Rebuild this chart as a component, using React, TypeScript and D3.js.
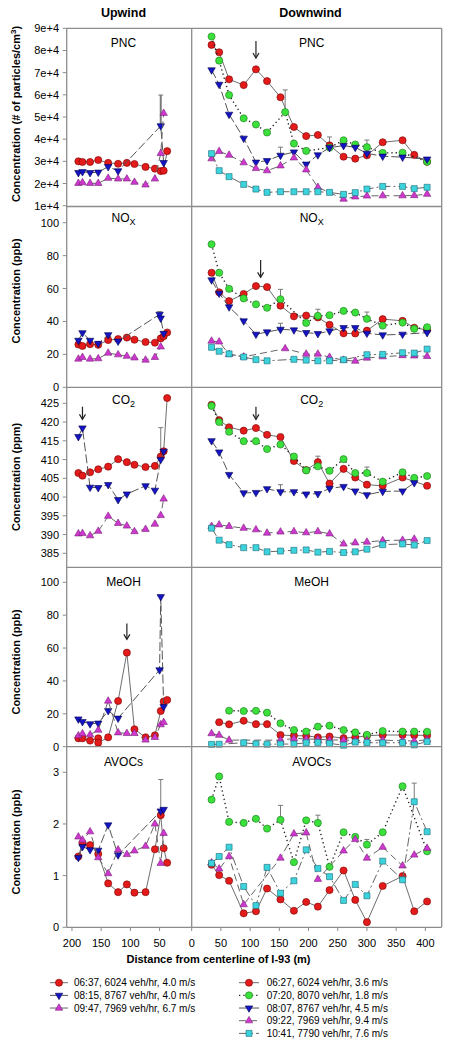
import React from 'react';
import * as d3 from 'd3';

// ---------- distances (m) ----------
const UP_X = [189, 182, 169, 155, 138, 121, 106, 93, 74, 58, 48, 43, 37];
const DN_X = [34, 47, 64, 89, 110, 129, 152, 175, 196, 216, 236, 260, 280, 300, 327, 361, 381, 403];
const UP_X12 = UP_X.slice(0, 12);
const DN_X17 = [34, 47, 64, 89, 110, 129, 152, 175, 196, 216, 236, 260, 280, 300, 327, 361, 403];
const DN_X17B = DN_X.slice(0, 17);

// ---------- PNC (#/cm3) ----------
const PNC_UP_R = [30000, 29700, 29700, 30600, 29300, 28900, 29300, 28800, 27500, 26700, 25600, 25800, 34600];
const PNC_UP_B_X = [189, 182, 169, 155, 138, 121, 48, 43];
const PNC_UP_B = [24900, 25300, 24900, 25100, 27600, 25700, 46000, 29400];
const PNC_UP_M = [20100, 20400, 20100, 20100, 22400, 22100, 22100, 20600, 19400, 22100, 33600, 51700];
const PNC_DN_R = [82500, 79200, 67000, 64400, 71500, 66200, 58900, 45500, 41400, 41900, 37200, 32100, 31200, 32700, 38600, 39500, 32900, 29800];
const PNC_DN_G_X = [34, 47, 64, 89, 110, 129, 160, 175, 196, 236, 260, 280, 300, 327, 361, 403];
const PNC_DN_G = [86300, 75400, 59900, 49400, 46600, 43000, 52200, 38000, 34700, 36200, 39500, 37600, 36400, 33800, 33900, 29800];
const PNC_DN_B = [71200, 64700, 51200, 40400, 29600, 30300, 32700, 34200, 28700, 32900, 36200, 37100, 36300, 33600, 32300, 31900, 31000];
const PNC_DN_M_X = [34, 47, 64, 89, 110, 129, 152, 175, 196, 216, 260, 280, 300, 327, 361, 381, 403];
const PNC_DN_M = [31200, 34500, 32800, 29400, 26800, 25800, 28000, 31600, 26200, 18300, 13000, 14000, 14400, 14500, 14500, 14600, 15200];
const PNC_DN_C = [33500, 25800, 23100, 19600, 17500, 16000, 16300, 16300, 16300, 16300, 16000, 15100, 15900, 17500, 18700, 18700, 17700, 18300];

// ---------- NOx (ppb) ----------
const NOX_UP_R = [26, 25.1, 26.2, 25.8, 28.7, 29.3, 30.2, 28.9, 27.5, 27.1, 29.7, 31, 33.3];
const NOX_UP_B_X = [189, 182, 169, 155, 138, 121, 50, 48, 43];
const NOX_UP_B = [28.5, 33.1, 28.5, 26.6, 31.9, 28, 44.3, 42, 32.7];
const NOX_UP_M_X = UP_X.slice(0, 11);
const NOX_UP_M = [17.2, 18.2, 17.2, 17.4, 20.8, 19.8, 18.9, 17.9, 16.6, 18.2, 24.6];
const NOX_DN_R = [69.6, 57.7, 52.4, 56.7, 61.5, 60.9, 49.6, 43.1, 43.6, 42.4, 38, 32.8, 32.7, 34.4, 41.4, 40.4, 36.2, 34.8];
const NOX_DN_G_X = [34, 47, 64, 89, 110, 129, 152, 196, 216, 236, 260, 280, 300, 327, 361, 381, 403];
const NOX_DN_G = [86.9, 69.6, 59.8, 54, 50.4, 48.3, 53.5, 39.1, 43.4, 43.8, 46.4, 45.4, 41.6, 37.5, 39.3, 35.5, 36.5];
const NOX_DN_B = [65.2, 57.1, 48.8, 40.3, 32.2, 33.6, 35.2, 34.8, 33.2, 32.6, 34.2, 36.2, 36.2, 32.8, 31.8, 32.2, 33.2];
const NOX_DN_M_X = [34, 47, 64, 89, 160, 196, 216, 236, 260, 280, 300, 327, 361, 381, 403];
const NOX_DN_M = [28.1, 27.6, 20, 18.5, 23.5, 20.2, 20.2, 18.3, 16.5, 15.9, 17.8, 18.6, 19.3, 19.1, 18.8];
const NOX_DN_C_X = [34, 47, 64, 89, 110, 129, 175, 196, 216, 236, 260, 300, 327, 361, 381, 403];
const NOX_DN_C = [24.3, 21.9, 20.3, 18.4, 16.8, 16.1, 17, 16.5, 16.1, 16.1, 16.7, 19.8, 20, 21, 20.8, 23.2];

// ---------- CO2 (ppm) ----------
const CO2_UP_R = [406.4, 405.7, 406.6, 407.4, 408.1, 410.1, 409.3, 408.6, 408, 408.3, 410.8, 412.2, 426.4];
const CO2_UP_B_X = [189, 182, 169, 155, 138, 121, 106, 74, 58, 48, 43];
const CO2_UP_B = [416.1, 418.4, 402.6, 402.5, 403.3, 399.3, 400.8, 403, 401.8, 410, 412.2];
const CO2_UP_M = [390.2, 390.3, 389.7, 390.9, 394.9, 393, 392.3, 390.8, 391.4, 392.8, 395.1, 399.5];
const CO2_DN_R = [424.6, 420.5, 418.6, 417.7, 418.4, 416.6, 416, 409.6, 407.2, 409.3, 403.6, 407.5, 405.2, 403.3, 403, 405.2, 403];
const CO2_DN_G = [424.3, 420, 417.4, 414.9, 414.9, 412.8, 414, 410.8, 407.1, 408.2, 407, 410.1, 406.4, 406.4, 404.1, 406.6, 405.1, 405.6];
const CO2_DN_B = [415, 412, 406, 401.1, 401.2, 402.2, 401.4, 401.4, 400.8, 400.9, 402.3, 402.8, 401.6, 400.6, 401.5, 401.6, 403.8];
const CO2_DN_M = [392.2, 392.6, 392.2, 391.7, 391.3, 390.4, 390.7, 390.8, 390.5, 390.8, 390.2, 387.5, 387.8, 388, 388.4, 388.5, 388.8];
const CO2_DN_C = [391.7, 388.5, 387.3, 386.5, 386.5, 385.4, 385.6, 385.8, 385.9, 385.3, 385.5, 385.2, 385.4, 386.1, 387.3, 387.5, 387.2, 388.4];

// ---------- MeOH (ppb) ----------
const MEOH_UP_R_X = [189, 182, 169, 155, 155, 138, 121, 106, 93, 74, 58, 48, 43, 37];
const MEOH_UP_R = [5.1, 5.1, 3.7, 5.1, 2.4, 5.7, 27.8, 57.2, 10.6, 5.7, 6.9, 21.7, 27.5, 28.4];
const MEOH_UP_B_X = [189, 182, 169, 155, 138, 121, 50, 48, 43];
const MEOH_UP_B = [16.8, 15.2, 13.9, 14.3, 21.9, 17.3, 46.7, 91.2, 24.3];
const MEOH_UP_M = [6.7, 7.9, 7.3, 10.1, 27.8, 8.5, 8.1, 8.1, 4.1, 5.7, 13.4, 14.8];
const MEOH_DN_R_X = DN_X.slice(1);
const MEOH_DN_R = [14.9, 13.6, 15.8, 13.7, 13.7, 7.1, 6.7, 6.6, 5.7, 6.2, 5.2, 5.7, 6.7, 7.1, 7.1, 7, 6.9];
const MEOH_DN_G_X = DN_X.slice(2);
const MEOH_DN_G = [21.9, 21.7, 21.8, 20.7, 14.2, 10.1, 9.2, 12.2, 12.8, 10.1, 8.7, 7.2, 9.5, 9.2, 9.2, 9.1];
const MEOH_DN_M_X = [34, 47, 64, 152, 175, 196, 216, 236, 260, 280, 300, 327, 361, 381, 403];
const MEOH_DN_M = [8, 7, 4, 4, 5, 4.7, 4.5, 4.1, 4.1, 3.7, 3.7, 4, 3.6, 3.5, 4.2];
const MEOH_DN_C_X = [34, 47, 89, 110, 129, 152, 175, 196, 216, 236, 260, 280, 300, 327, 361, 381, 403];
const MEOH_DN_C = [1.4, 1.5, 2.4, 1.7, 1.5, 1.6, 1.6, 2.4, 2.6, 2, 0.9, 2.8, 2.5, 2.3, 2.5, 1.1, 3.1];

// ---------- AVOCs (ppb) ----------
const AVOC_UP_R = [1.37, 1.63, 1.59, 1.42, 0.85, 0.68, 0.83, 0.67, 0.68, 1.51, 2.17, 1.53, 1.25];
const AVOC_UP_B_X = [189, 182, 169, 155, 138, 121, 48, 43];
const AVOC_UP_B = [1.35, 1.56, 1.5, 1.49, 1.98, 1.4, 2.25, 2.28];
const AVOC_UP_M = [1.75, 1.69, 1.85, 1.35, 1.04, 1.5, 1.41, 1.48, 1.57, 2.0, 1.24, 1.82];
const AVOC_DN_R = [1.21, 1.01, 0.9, 0.27, 0.31, 0.75, 0.54, 0.32, 0.49, 0.4, 0.72, 1.1, 0.53, 0.1, 0.8, 0.99, 0.31, 0.5];
const AVOC_DN_G = [2.47, 2.92, 2.04, 2.02, 2.1, 1.91, 2.08, 1.26, 2.07, 2.02, 1.17, 1.84, 1.75, 1.6, 1.84, 2.73, 1.47];
const AVOC_DN_M_X = [34, 47, 64, 89, 152, 175, 196, 216, 260, 280, 300, 327, 361, 381, 403];
const AVOC_DN_M = [1.25, 1.13, 1.37, 0.44, 1.34, 1.81, 1.83, 0.93, 1.48, 1.7, 1.34, 1.55, 1.19, 1.4, 1.53];
const AVOC_DN_C = [1.24, 1.37, 1.55, 0.79, 0.42, 1.16, 0.66, 0.9, 1.5, 1.14, 0.98, 0.52, 0.83, 0.61, 1.28, 0.92, 2.43, 1.85];

// ---------- ticks ----------
const PNC_TICKS = [10000, 20000, 30000, 40000, 50000, 60000, 70000, 80000, 90000];
const PPB_TICKS = [0, 20, 40, 60, 80, 100];
const CO2_TICKS = [385, 390, 395, 400, 405, 410, 415, 420, 425];
const AVOC_TICKS = [0, 1, 2, 3];
const UP_XTICKS = [200, 150, 100, 50];
const DN_XTICKS = [0, 50, 100, 150, 200, 250, 300, 350, 400];

// ---------- legend ----------
const LEG_UP_KEYS = ['r', 'b', 'm'];
const LEG_UP = ['06:37, 6024 veh/hr, 4.0 m/s', '08:15, 8767 veh/hr, 4.0 m/s', '09:47, 7969 veh/hr, 6.7 m/s'];
const LEG_DN_KEYS = ['r', 'g', 'b', 'm', 'c'];
const LEG_DN = ['06:27, 6024 veh/hr, 3.6 m/s', '07:20, 8070 veh/hr, 1.8 m/s', '08:07, 8767 veh/hr, 4.5 m/s', '09:22, 7969 veh/hr, 9.4 m/s', '10:41, 7790 veh/hr, 7.6 m/s'];

// error bars: [side, series, x, top]
const PNC_ERR: [string, string, number, number][] = [['up', 'b', 48, 59900], ['dn', 'g', 160, 62200], ['dn', 'b', 152, 36400], ['dn', 'b', 236, 41000], ['dn', 'g', 300, 39600]];
const NOX_ERR: [string, string, number, number][] = [['up', 'b', 50, 45.9], ['dn', 'g', 152, 59.5], ['dn', 'b', 152, 38.9], ['dn', 'g', 216, 47.4], ['dn', 'g', 300, 45.7]];
const CO2_ERR: [string, string, number, number][] = [['up', 'b', 48, 418.5], ['dn', 'b', 152, 403.3], ['dn', 'r', 216, 410.9], ['dn', 'g', 300, 408]];
const AVOC_ERR: [string, string, number, number][] = [['up', 'b', 48, 2.86], ['dn', 'g', 152, 2.36], ['dn', 'g', 216, 2.17], ['dn', 'g', 300, 1.7], ['dn', 'c', 381, 2.79]];
// arrows: [side, x, yTop, yTip]
const PNC_ARROWS: [string, number, number, number][] = [['dn', 110, 84300, 76600]];
const NOX_ARROWS: [string, number, number, number][] = [['dn', 118, 77.3, 66.8]];
const CO2_ARROWS: [string, number, number, number][] = [['up', 182, 424.1, 420.7], ['dn', 110, 424.1, 420.7]];
const MEOH_ARROWS: [string, number, number, number][] = [['up', 106, 75, 65.3]];

const STY: Record<string, any> = {
  r: { fill: '#e31b1b', stroke: '#7a0000', dash: null, line: '#6e6e6e', lw: 1 },
  g: { fill: '#3ce03c', stroke: '#187818', dash: '1.3,3', line: '#222', lw: 1.4 },
  b: { fill: '#1414c4', stroke: '#000050', dash: '9,3', line: '#555', lw: 1 },
  m: { fill: '#cf38cf', stroke: '#782078', dash: '7,4', line: '#666', lw: 1 },
  c: { fill: '#3cd4dc', stroke: '#1a6a78', dash: '9,3,2,3', line: '#666', lw: 1 },
};

type S = { k: string; x: number[]; y: number[] };

const X0 = 66.7, XD = 191.7, X1 = 441.7;
const xUp = d3.scaleLinear().domain([209, -5]).range([X0, XD]);
const xDn = d3.scaleLinear().domain([0, 428]).range([XD, X1]);

const PANELS = [
  {
    top: 28.3, bottom: 206.5, y: d3.scaleLinear().domain([10000, 90000]).range([205.7, 28.3]),
    ticks: PNC_TICKS, fmt: (v: number) => `${v / 10000}e+4`, label: 'PNC', titleY: 114, labelY: 47,
    up: [{ k: 'r', x: UP_X, y: PNC_UP_R }, { k: 'b', x: PNC_UP_B_X, y: PNC_UP_B }, { k: 'm', x: UP_X12, y: PNC_UP_M }] as S[],
    dn: [{ k: 'r', x: DN_X, y: PNC_DN_R }, { k: 'g', x: PNC_DN_G_X, y: PNC_DN_G }, { k: 'b', x: DN_X17, y: PNC_DN_B }, { k: 'm', x: PNC_DN_M_X, y: PNC_DN_M }, { k: 'c', x: DN_X, y: PNC_DN_C }] as S[],
    err: PNC_ERR, arrows: PNC_ARROWS,
  },
  {
    top: 206.5, bottom: 387.3, y: d3.scaleLinear().domain([0, 100]).range([387.3, 222.7]),
    ticks: PPB_TICKS, fmt: (v: number) => `${v}`, label: 'NOX', titleY: 291, labelY: 222,
    up: [{ k: 'r', x: UP_X, y: NOX_UP_R }, { k: 'b', x: NOX_UP_B_X, y: NOX_UP_B }, { k: 'm', x: NOX_UP_M_X, y: NOX_UP_M }] as S[],
    dn: [{ k: 'r', x: DN_X, y: NOX_DN_R }, { k: 'g', x: NOX_DN_G_X, y: NOX_DN_G }, { k: 'b', x: DN_X17, y: NOX_DN_B }, { k: 'm', x: NOX_DN_M_X, y: NOX_DN_M }, { k: 'c', x: NOX_DN_C_X, y: NOX_DN_C }] as S[],
    err: NOX_ERR, arrows: NOX_ARROWS,
  },
  {
    top: 387.3, bottom: 567.3, y: d3.scaleLinear().domain([385, 425]).range([553.3, 403.3]),
    ticks: CO2_TICKS, fmt: (v: number) => `${v}`, label: 'CO2', titleY: 477, labelY: 403.5,
    up: [{ k: 'r', x: UP_X, y: CO2_UP_R }, { k: 'b', x: CO2_UP_B_X, y: CO2_UP_B }, { k: 'm', x: UP_X12, y: CO2_UP_M }] as S[],
    dn: [{ k: 'r', x: DN_X17, y: CO2_DN_R }, { k: 'g', x: DN_X, y: CO2_DN_G }, { k: 'b', x: DN_X17B, y: CO2_DN_B }, { k: 'm', x: DN_X17B, y: CO2_DN_M }, { k: 'c', x: DN_X, y: CO2_DN_C }] as S[],
    err: CO2_ERR, arrows: CO2_ARROWS,
  },
  {
    top: 567.3, bottom: 746.7, y: d3.scaleLinear().domain([0, 100]).range([746.7, 582.3]),
    ticks: PPB_TICKS, fmt: (v: number) => `${v}`, label: 'MeOH', titleY: 662, labelY: 586,
    up: [{ k: 'r', x: MEOH_UP_R_X, y: MEOH_UP_R }, { k: 'b', x: MEOH_UP_B_X, y: MEOH_UP_B }, { k: 'm', x: UP_X12, y: MEOH_UP_M }] as S[],
    dn: [{ k: 'r', x: MEOH_DN_R_X, y: MEOH_DN_R }, { k: 'g', x: MEOH_DN_G_X, y: MEOH_DN_G }, { k: 'm', x: MEOH_DN_M_X, y: MEOH_DN_M }, { k: 'c', x: MEOH_DN_C_X, y: MEOH_DN_C }] as S[],
    err: [] as [string, string, number, number][], arrows: MEOH_ARROWS,
  },
  {
    top: 746.7, bottom: 927.3, y: d3.scaleLinear().domain([0, 3]).range([927.3, 772.3]),
    ticks: AVOC_TICKS, fmt: (v: number) => `${v}`, label: 'AVOCs', titleY: 842, labelY: 766,
    up: [{ k: 'r', x: UP_X, y: AVOC_UP_R }, { k: 'b', x: AVOC_UP_B_X, y: AVOC_UP_B }, { k: 'm', x: UP_X12, y: AVOC_UP_M }] as S[],
    dn: [{ k: 'r', x: DN_X, y: AVOC_DN_R }, { k: 'g', x: DN_X17, y: AVOC_DN_G }, { k: 'm', x: AVOC_DN_M_X, y: AVOC_DN_M }, { k: 'c', x: DN_X, y: AVOC_DN_C }] as S[],
    err: AVOC_ERR, arrows: [] as [string, number, number, number][],
  },
];

function symPath(k: string): string {
  const type = k === 'r' || k === 'g' ? d3.symbolCircle : k === 'c' ? d3.symbolSquare : d3.symbolTriangle;
  const size = k === 'r' || k === 'g' ? 40 : k === 'c' ? 36 : 24;
  return d3.symbol().type(type).size(size)() as string;
}

function Marker({ k, x, y }: { k: string; x: number; y: number }) {
  const st = STY[k];
  const rot = k === 'b' ? 180 : 0;
  return <path d={symPath(k)} transform={`translate(${x},${y}) rotate(${rot})`} fill={st.fill} stroke={st.stroke} strokeWidth={0.6} />;
}

function Series({ s, xs, ys }: { s: S; xs: d3.ScaleLinear<number, number>; ys: d3.ScaleLinear<number, number> }) {
  const st = STY[s.k];
  const pts: [number, number][] = s.x.map((xv, i) => [xs(xv), ys(s.y[i])]);
  const line = d3.line()(pts) as string;
  return (
    <g>
      <path d={line} fill="none" stroke={st.line} strokeWidth={st.lw} strokeDasharray={st.dash || undefined} />
      {pts.map((p, i) => <Marker key={i} k={s.k} x={p[0]} y={p[1]} />)}
    </g>
  );
}

function PanelLabel({ label, x, y }: { label: string; x: number; y: number }) {
  if (label === 'NOX') return <text x={x} y={y} textAnchor="middle" fontSize={12}>NO<tspan fontSize={9} dy={3}>X</tspan></text>;
  if (label === 'CO2') return <text x={x} y={y} textAnchor="middle" fontSize={12}>CO<tspan fontSize={9} dy={3}>2</tspan></text>;
  return <text x={x} y={y} textAnchor="middle" fontSize={12}>{label}</text>;
}

export default function App() {
  const frame = '#8c8c8c';
  return (
    <svg width={453} height={1050} style={{ position: 'absolute', left: 0, top: 0, background: '#fff' }} fontFamily="'Liberation Sans', Arial, sans-serif">
      <text x={123.5} y={17} textAnchor="middle" fontSize={12.5} fontWeight="bold">Upwind</text>
      <text x={310.5} y={17} textAnchor="middle" fontSize={12.5} fontWeight="bold">Downwind</text>
      {PANELS.map((p, pi) => {
        const ys = p.y;
        const allSeries = [...p.up.map(s => ({ s, xs: xUp })), ...p.dn.map(s => ({ s, xs: xDn }))];
        const order = ['r', 'g', 'b', 'm', 'c'];
        return (
          <g key={pi}>
            {p.ticks.map(t => (
              <g key={t}>
                <line x1={X0 - 4} x2={X0} y1={ys(t)} y2={ys(t)} stroke={frame} strokeWidth={1} />
                <text x={59} y={ys(t) + 4} textAnchor="end" fontSize={11}>{p.fmt(t)}</text>
              </g>
            ))}
            <text transform={`translate(20,${p.titleY}) rotate(-90)`} textAnchor="middle" fontSize={11} fontWeight="bold">
              {pi === 0 ? (<>Concentration (# of particles/cm<tspan fontSize={8} dy={-4}>3</tspan><tspan dy={4}>)</tspan></>) : pi === 2 ? 'Concentration (ppm)' : 'Concentration (ppb)'}
            </text>
            <PanelLabel label={p.label} x={123.5} y={p.labelY} />
            <PanelLabel label={p.label} x={311.7} y={p.labelY} />
            {p.err.map((e, i) => {
              const [side, k, xv, top] = e;
              const src = (side === 'up' ? p.up : p.dn).find(s => s.k === k)!;
              const idx = src.x.indexOf(xv);
              const xs = side === 'up' ? xUp : xDn;
              const px = xs(xv);
              const thick = pi === 0 && side === 'up';
              return (
                <g key={'e' + i}>
                  <line x1={px} x2={px} y1={ys(src.y[idx])} y2={ys(top)} stroke="#7a7a7a" strokeWidth={thick ? 2 : 1} />
                  <line x1={px - 2.5} x2={px + 2.5} y1={ys(top)} y2={ys(top)} stroke="#7a7a7a" strokeWidth={1} />
                </g>
              );
            })}
            {order.flatMap(k => allSeries.filter(a => a.s.k === k)).map((a, i) => (
              <Series key={i} s={a.s} xs={a.xs} ys={ys} />
            ))}
            {p.arrows.map((a, i) => {
              const [side, xv, y0, y1] = a;
              const px = (side === 'up' ? xUp : xDn)(xv);
              const yA = ys(y0), yB = ys(y1);
              return (
                <g key={'a' + i} stroke="#222" strokeWidth={1.2} fill="none">
                  <line x1={px} x2={px} y1={yA} y2={yB} />
                  <path d={`M${px - 3},${yB - 5}L${px},${yB}L${px + 3},${yB - 5}`} />
                </g>
              );
            })}
            <line x1={X0} x2={X1} y1={p.top} y2={p.top} stroke={frame} strokeWidth={1.3} />
          </g>
        );
      })}
      <line x1={X0} x2={X1} y1={927.3} y2={927.3} stroke={frame} strokeWidth={1.3} />
      <line x1={X0} x2={X0} y1={28.3} y2={927.3} stroke={frame} strokeWidth={1.3} />
      <line x1={XD} x2={XD} y1={28.3} y2={927.3} stroke={frame} strokeWidth={1.3} />
      <line x1={X1} x2={X1} y1={28.3} y2={927.3} stroke={frame} strokeWidth={1.3} />
      {UP_XTICKS.map(t => (
        <g key={'u' + t}>
          <line x1={xUp(t)} x2={xUp(t)} y1={927.3} y2={931} stroke={frame} />
          <text x={xUp(t)} y={946.5} textAnchor="middle" fontSize={11}>{t}</text>
        </g>
      ))}
      {DN_XTICKS.map(t => (
        <g key={'d' + t}>
          <line x1={xDn(t)} x2={xDn(t)} y1={927.3} y2={931} stroke={frame} />
          <text x={xDn(t)} y={946.5} textAnchor="middle" fontSize={11}>{t}</text>
        </g>
      ))}
      <text x={218.5} y={962.5} textAnchor="middle" fontSize={11} fontWeight="bold">Distance from centerline of I-93 (m)</text>
      {LEG_UP.map((t, i) => {
        const k = LEG_UP_KEYS[i];
        const yy = 982.7 + i * 12.67;
        return (
          <g key={'lu' + i}>
            <line x1={50} x2={68} y1={yy} y2={yy} stroke={STY[k].line} strokeWidth={STY[k].lw} strokeDasharray={STY[k].dash || undefined} />
            <Marker k={k} x={59} y={yy} />
            <text x={74} y={yy + 3.6} fontSize={10}>{t}</text>
          </g>
        );
      })}
      {LEG_DN.map((t, i) => {
        const k = LEG_DN_KEYS[i];
        const yy = 982.7 + i * 12.67;
        return (
          <g key={'ld' + i}>
            <line x1={239} x2={259} y1={yy} y2={yy} stroke={STY[k].line} strokeWidth={STY[k].lw} strokeDasharray={STY[k].dash || undefined} />
            <Marker k={k} x={249} y={yy} />
            <text x={266.7} y={yy + 3.6} fontSize={10}>{t}</text>
          </g>
        );
      })}
    </svg>
  );
}
